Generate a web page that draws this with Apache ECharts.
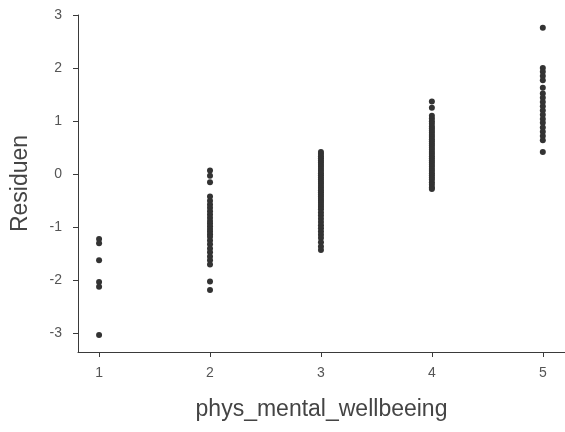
<!DOCTYPE html>
<html>
<head>
<meta charset="utf-8">
<script src="https://cdn.jsdelivr.net/npm/echarts@6/dist/echarts.min.js"></script>
<style>html,body{margin:0;padding:0;background:#fff}#c{width:565px;height:432px}</style>
</head>
<body>
<div id="c"></div>
<script>
var xTicks = [1, 2, 3, 4, 5];
var yTicks = [-3, -2, -1, 0, 1, 2, 3];
var xName = 'phys_mental_wellbeeing';
var yName = 'Residuen';

var res1 = [-1.22, -1.30, -1.62, -2.03, -2.12, -3.03];
var res2 = [0.07, -0.03, -0.15, -0.42, -0.50, -0.57, -0.63, -0.70, -0.76, -0.82, -0.88, -0.93, -0.98, -1.03, -1.08, -1.13, -1.18, -1.25, -1.32, -1.40, -1.47, -1.55, -1.62, -1.70, -2.02, -2.18];
var res3 = [0.42, 0.38, 0.34, 0.30, 0.26, 0.22, 0.18, 0.14, 0.10, 0.06, 0.02, -0.02, -0.06, -0.10, -0.14, -0.18, -0.22, -0.26, -0.30, -0.34, -0.38, -0.42, -0.46, -0.50, -0.54, -0.58, -0.62, -0.66, -0.72, -0.78, -0.84, -0.90, -0.96, -1.02, -1.08, -1.14, -1.20, -1.28, -1.36, -1.43];
var res4 = [1.37, 1.25, 1.10, 1.05, 1.00, 0.95, 0.90, 0.86, 0.82, 0.78, 0.74, 0.70, 0.66, 0.62, 0.58, 0.54, 0.50, 0.46, 0.42, 0.38, 0.34, 0.30, 0.26, 0.22, 0.18, 0.14, 0.10, 0.06, 0.02, -0.02, -0.06, -0.10, -0.15, -0.20, -0.25, -0.28];
var res5 = [2.76, 2.00, 1.93, 1.85, 1.77, 1.63, 1.52, 1.44, 1.36, 1.28, 1.20, 1.12, 1.04, 0.97, 0.88, 0.80, 0.72, 0.64, 0.42];

var groups = [res1, res2, res3, res4, res5];
var data = [];
groups.forEach(function (arr, i) {
  arr.forEach(function (v) { data.push([xTicks[i], v]); });
});

// layout
var W = 565, H = 432;
var G = { left: 78, right: 0, top: 15, bottom: 80 };
var xMin = 0.81, xMax = 5.2, yMin = -3.35, yMax = 3;
var ppuX = (W - G.left - G.right) / (xMax - xMin);
var ppuY = (H - G.top - G.bottom) / (yMax - yMin);
var xTickGrid = {
  left: G.left + (xTicks[0] - xMin) * ppuX,
  right: G.right + (xMax - xTicks[xTicks.length - 1]) * ppuX,
  top: G.top, bottom: G.bottom
};
var yTickGrid = {
  left: G.left, right: G.right,
  top: G.top + (yMax - yTicks[yTicks.length - 1]) * ppuY,
  bottom: G.bottom + (yTicks[0] - yMin) * ppuY
};

var axisColor = '#3a3a3a';
var labelStyle = { fontFamily: 'Liberation Sans', fontSize: 14, color: '#555' };
var nameStyle = { fontFamily: 'Liberation Sans', fontSize: 23, color: '#444' };

var chart = echarts.init(document.getElementById('c'));
chart.setOption({
  animation: false,
  grid: [
    { left: G.left, right: G.right, top: G.top, bottom: G.bottom },
    yTickGrid,
    xTickGrid
  ],
  xAxis: [
    { gridIndex: 0, type: 'value', min: xMin, max: xMax,
      name: xName, nameLocation: 'middle', nameGap: 46, nameTextStyle: nameStyle,
      axisLine: { show: true, onZero: false, lineStyle: { color: axisColor, width: 1 } },
      axisTick: { show: false }, axisLabel: { show: false }, splitLine: { show: false } },
    { gridIndex: 1, type: 'value', show: false, min: 0, max: 1 },
    { gridIndex: 2, type: 'value', min: xTicks[0], max: xTicks[xTicks.length - 1], interval: 1,
      axisLine: { show: true, onZero: false, lineStyle: { color: 'rgba(0,0,0,0)' } },
      axisTick: { show: true, length: 5, lineStyle: { color: axisColor, width: 1 } },
      axisLabel: Object.assign({ margin: 14 }, labelStyle), splitLine: { show: false } }
  ],
  yAxis: [
    { gridIndex: 0, type: 'value', min: yMin, max: yMax,
      name: yName, nameLocation: 'middle', nameGap: 46, nameTextStyle: nameStyle,
      axisLine: { show: true, onZero: false, lineStyle: { color: axisColor, width: 1 } },
      axisTick: { show: false }, axisLabel: { show: false }, splitLine: { show: false } },
    { gridIndex: 1, type: 'value', min: yTicks[0], max: yTicks[yTicks.length - 1], interval: 1,
      axisLine: { show: true, onZero: false, lineStyle: { color: 'rgba(0,0,0,0)' } },
      axisTick: { show: true, length: 5, lineStyle: { color: axisColor, width: 1 } },
      axisLabel: Object.assign({ margin: 16 }, labelStyle), splitLine: { show: false } },
    { gridIndex: 2, type: 'value', show: false, min: 0, max: 1 }
  ],
  series: [{
    type: 'scatter', xAxisIndex: 0, yAxisIndex: 0, data: data,
    symbol: 'circle', symbolSize: 6,
    itemStyle: { color: '#333', opacity: 1 }
  }]
});
</script>
</body>
</html>
